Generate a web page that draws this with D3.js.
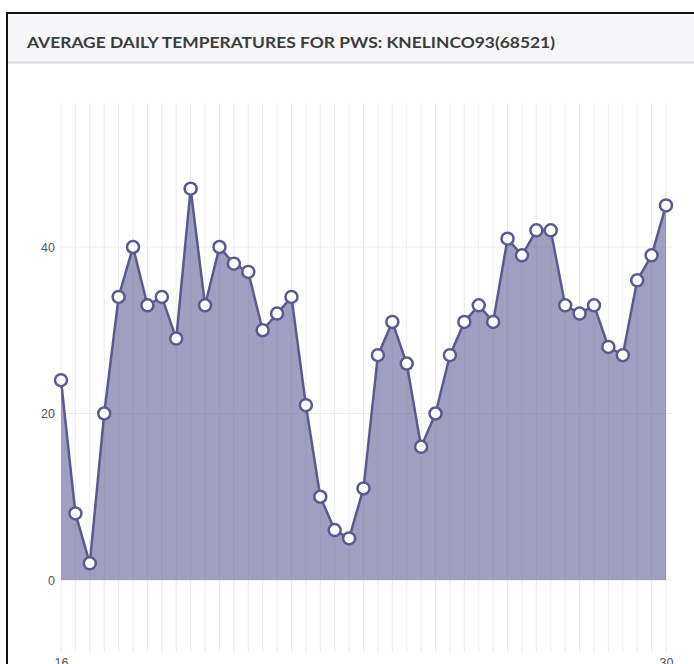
<!DOCTYPE html>
<html>
<head>
<meta charset="utf-8">
<script src="https://cdn.jsdelivr.net/npm/d3@7/dist/d3.min.js"></script>
<style>
  html, body { margin: 0; padding: 0; background: #fff; }
  svg { display: block; }
</style>
</head>
<body>
<svg id="chart" width="694" height="664"></svg>
<script>
// Daily observation dates (Feb 16 – Mar 30)
const dates = [
  "Feb 16", "Feb 17", "Feb 18", "Feb 19", "Feb 20", "Feb 21", "Feb 22", "Feb 23",
  "Feb 24", "Feb 25", "Feb 26", "Feb 27", "Feb 28", "Mar 1", "Mar 2", "Mar 3",
  "Mar 4", "Mar 5", "Mar 6", "Mar 7", "Mar 8", "Mar 9", "Mar 10", "Mar 11",
  "Mar 12", "Mar 13", "Mar 14", "Mar 15", "Mar 16", "Mar 17", "Mar 18", "Mar 19",
  "Mar 20", "Mar 21", "Mar 22", "Mar 23", "Mar 24", "Mar 25", "Mar 26", "Mar 27",
  "Mar 28", "Mar 29", "Mar 30"
];

// Average daily temperature (°F)
const avgTemps = [
  24, 8, 2, 20, 34, 40, 33, 34, 29, 47, 33, 40, 38, 37, 30, 32,
  34, 21, 10, 6, 5, 11, 27, 31, 26, 16, 20, 27, 31, 33, 31, 41,
  39, 42, 42, 33, 32, 33, 28, 27, 36, 39, 45
];

const yTicks = [0, 20, 40];
const xTickDates = ["Feb 16", "Mar 30"];
const xTickLabels = ["16", "30"];

const title = "AVERAGE DAILY TEMPERATURES FOR PWS: KNELINCO93(68521)";

const svg = d3.select("#chart");

// Panel frame and header
svg.append("rect")
  .attr("x", 7).attr("y", 13)
  .attr("width", 720).attr("height", 720)
  .attr("fill", "#fff")
  .attr("stroke", "#111").attr("stroke-width", 2);

svg.append("rect")
  .attr("x", 8).attr("y", 14)
  .attr("width", 700).attr("height", 48)
  .attr("fill", "#f7f7f9");

svg.append("line")
  .attr("x1", 8).attr("x2", 700)
  .attr("y1", 62.5).attr("y2", 62.5)
  .attr("stroke", "#dcdce2").attr("stroke-width", 2);

svg.append("text")
  .attr("x", 27).attr("y", 47.5)
  .attr("font-family", "Lato, 'Open Sans', sans-serif")
  .attr("font-weight", 700)
  .attr("font-size", 15)
  .attr("fill", "#3c3c3c")
  .attr("textLength", 528)
  .attr("lengthAdjust", "spacingAndGlyphs")
  .text(title);

// Scales
const x = d3.scalePoint().domain(dates).range([61, 666]);
const y = d3.scaleLinear().domain([0, 40]).range([580, 247]);

const plotTop = 103, plotBottom = 652;

// Grid
const grid = svg.append("g");
grid.selectAll("line.v")
  .data(dates)
  .join("line")
  .attr("class", "v")
  .attr("x1", d => x(d)).attr("x2", d => x(d))
  .attr("y1", plotTop).attr("y2", plotBottom)
  .attr("stroke", "#ececec").attr("stroke-width", 1);

grid.selectAll("line.h")
  .data(yTicks)
  .join("line")
  .attr("class", "h")
  .attr("x1", 61).attr("x2", 672)
  .attr("y1", d => y(d)).attr("y2", d => y(d))
  .attr("stroke", "#ececec").attr("stroke-width", 1);

const series = dates.map((d, i) => ({ date: d, value: avgTemps[i] }));

// Area
const area = d3.area()
  .x(d => x(d.date))
  .y0(y(0))
  .y1(d => y(d.value));

svg.append("path")
  .datum(series)
  .attr("d", area)
  .attr("fill", "rgba(88, 87, 148, 0.57)");

// Line
const line = d3.line()
  .x(d => x(d.date))
  .y(d => y(d.value));

svg.append("path")
  .datum(series)
  .attr("d", line)
  .attr("fill", "none")
  .attr("stroke", "#5b5a90")
  .attr("stroke-width", 2.5)
  .attr("stroke-linejoin", "round");

// Point markers
svg.append("g")
  .selectAll("circle")
  .data(series)
  .join("circle")
  .attr("cx", d => x(d.date))
  .attr("cy", d => y(d.value))
  .attr("r", 6)
  .attr("fill", "#fff")
  .attr("stroke", "#5b5a90")
  .attr("stroke-width", 2.5);

// Axes
const yAxis = svg.append("g")
  .attr("transform", "translate(55,0)")
  .call(d3.axisLeft(y).tickValues(yTicks).tickSize(0).tickPadding(0));
yAxis.select(".domain").remove();
yAxis.selectAll("text")
  .attr("font-family", "'Liberation Sans', Arial, sans-serif")
  .attr("font-size", 12.5)
  .attr("fill", "#555");

const xAxis = svg.append("g")
  .attr("transform", `translate(0,${plotBottom})`)
  .call(d3.axisBottom(x)
    .tickValues(xTickDates)
    .tickSize(0)
    .tickPadding(6)
    .tickFormat(d => xTickLabels[xTickDates.indexOf(d)]));
xAxis.select(".domain").remove();
xAxis.selectAll("text")
  .attr("font-family", "'Liberation Sans', Arial, sans-serif")
  .attr("font-size", 12.5)
  .attr("fill", "#555");
</script>
</body>
</html>
